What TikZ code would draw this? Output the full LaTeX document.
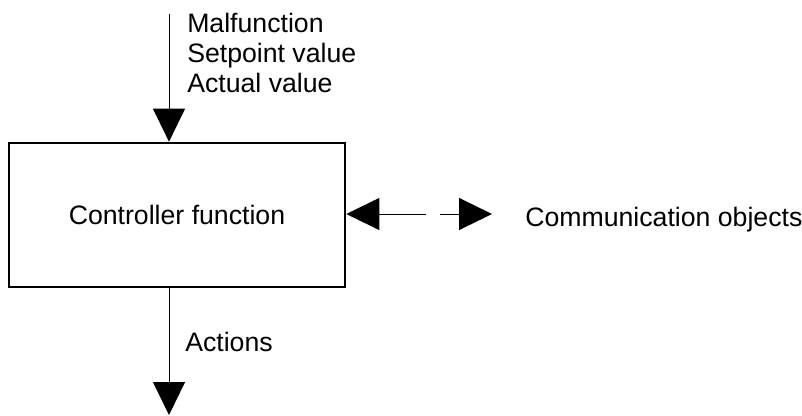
\documentclass[tikz,border=0pt]{standalone}
\usepackage{fontspec}
\setmainfont{Liberation Sans}
\usetikzlibrary{arrows.meta}

\tikzset{
  lbl/.style={inner sep=0pt, font=\fontsize{20}{24}\selectfont},
  flow/.style={line width=0.75pt, -{Triangle[length=24.75pt, width=24pt]}},
}

\begin{document}
\begin{tikzpicture}[x=0.75pt, y=-0.75pt]
        \useasboundingbox (0,0) rectangle (802,415);
        % controller box
        \node [draw, line width=2pt, minimum width=252pt, minimum height=108pt,
               lbl] (ctrl) at (177,215) {Controller function};
        % inputs from above
        \coordinate (inTop) at (169,14);
        \draw [flow] (inTop) -- (inTop |- ctrl.north);
        \node [lbl, anchor=base west] (inMal) at (187,32) {Malfunction};
        \node [lbl, anchor=base west] (inSet) at (187,62) {Setpoint value};
        \node [lbl, anchor=base west] (inAct) at (187,92) {Actual value};
        % outputs below
        \coordinate (outEnd) at (169,415);
        \draw [flow] (outEnd |- ctrl.south) -- (outEnd);
        \node [lbl, anchor=base west] (outAct) at (185,351) {Actions};
        % communication objects
        \node [lbl, anchor=base west] (comm) at (525,226) {Communication objects};
        \coordinate (gapL) at (426,214);
        \coordinate (gapR) at (440,214);
        \coordinate (commTip) at (492,214);
        \draw [flow] (gapL) -- (gapL -| ctrl.east);
        \draw [flow] (gapR) -- (commTip);
\end{tikzpicture}
\end{document}
